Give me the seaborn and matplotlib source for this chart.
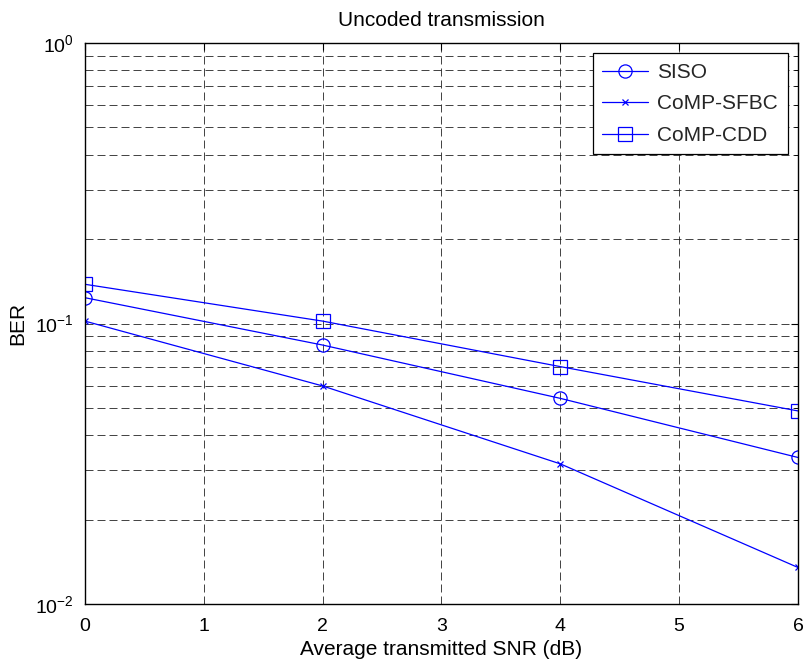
import numpy as np
import pandas as pd
import matplotlib
matplotlib.use("Agg")
import matplotlib.pyplot as plt
from matplotlib.ticker import LogLocator, NullFormatter
import seaborn as sns

# values
snr_db = [0, 2, 4, 6]
ber_siso = [0.1236, 0.0838, 0.0541, 0.0333]
ber_sfbc = [0.102, 0.0599, 0.0316, 0.0135]
ber_cdd = [0.138, 0.102, 0.0702, 0.0488]
schemes = ["SISO", "CoMP-SFBC", "CoMP-CDD"]
scheme_markers = {"SISO": "o", "CoMP-SFBC": "x", "CoMP-CDD": "s"}
scheme_msize = {"SISO": 9.5, "CoMP-SFBC": 5, "CoMP-CDD": 9.5}

df = pd.concat([
    pd.DataFrame({"SNR": snr_db, "BER": vals, "Scheme": name})
    for name, vals in zip(schemes, [ber_siso, ber_sfbc, ber_cdd])
])

sns.set_theme(style="white")
plt.rcParams["font.family"] = ["Liberation Sans", "DejaVu Sans"]
plt.rcParams["mathtext.fontset"] = "custom"
plt.rcParams["mathtext.rm"] = "Liberation Sans"

fig = plt.figure(figsize=(8.07, 6.65), dpi=100)
ax = fig.add_axes([0.1053, 0.0917, 0.8835, 0.8436])

for name in schemes:
    sns.lineplot(
        data=df[df["Scheme"] == name], x="SNR", y="BER", ax=ax,
        color="#0000ff", linewidth=0.9, marker=scheme_markers[name],
        markersize=scheme_msize[name], markerfacecolor="none",
        markeredgecolor="#0000ff", markeredgewidth=0.9, label=name,
    )

ax.set_yscale("log")
ax.set_xlim(0, 6)
ax.set_ylim(1e-2, 1e0)
ax.set_xticks(range(0, 7))
ax.yaxis.set_major_locator(LogLocator(base=10, numticks=10))
ax.yaxis.set_minor_locator(LogLocator(base=10, subs=np.arange(2, 10), numticks=20))
ax.yaxis.set_minor_formatter(NullFormatter())

dash = (0, (9.6, 4.8))
ax.grid(True, which="major", axis="both", color="#222222", linestyle=dash, linewidth=0.6)
ax.grid(True, which="minor", axis="y", color="#222222", linestyle=dash, linewidth=0.6)

ax.tick_params(which="both", direction="in", top=True, right=True, labelsize=14, colors="black")
ax.tick_params(which="major", length=5, width=0.8)
ax.tick_params(which="minor", length=3, width=0.6)
ax.tick_params(axis="x", which="major", pad=10)
ax.tick_params(axis="y", which="major", pad=8)
for sp in ax.spines.values():
    sp.set_color("black")
    sp.set_linewidth(1.0)

ax.set_xlabel("Average transmitted SNR (dB)", fontsize=15, color="black", labelpad=4)
ax.set_ylabel("BER", fontsize=15, color="black", labelpad=6)
ax.set_title("Uncoded transmission", fontsize=15, color="black", pad=12)

leg = ax.legend(loc="upper right", fontsize=15, fancybox=False, framealpha=1,
                edgecolor="black", borderaxespad=0.5, handlelength=2.2,
                handletextpad=0.45, labelspacing=0.6, borderpad=0.45)
leg.get_frame().set_linewidth(0.9)

fig.savefig("out.png", dpi=100)
